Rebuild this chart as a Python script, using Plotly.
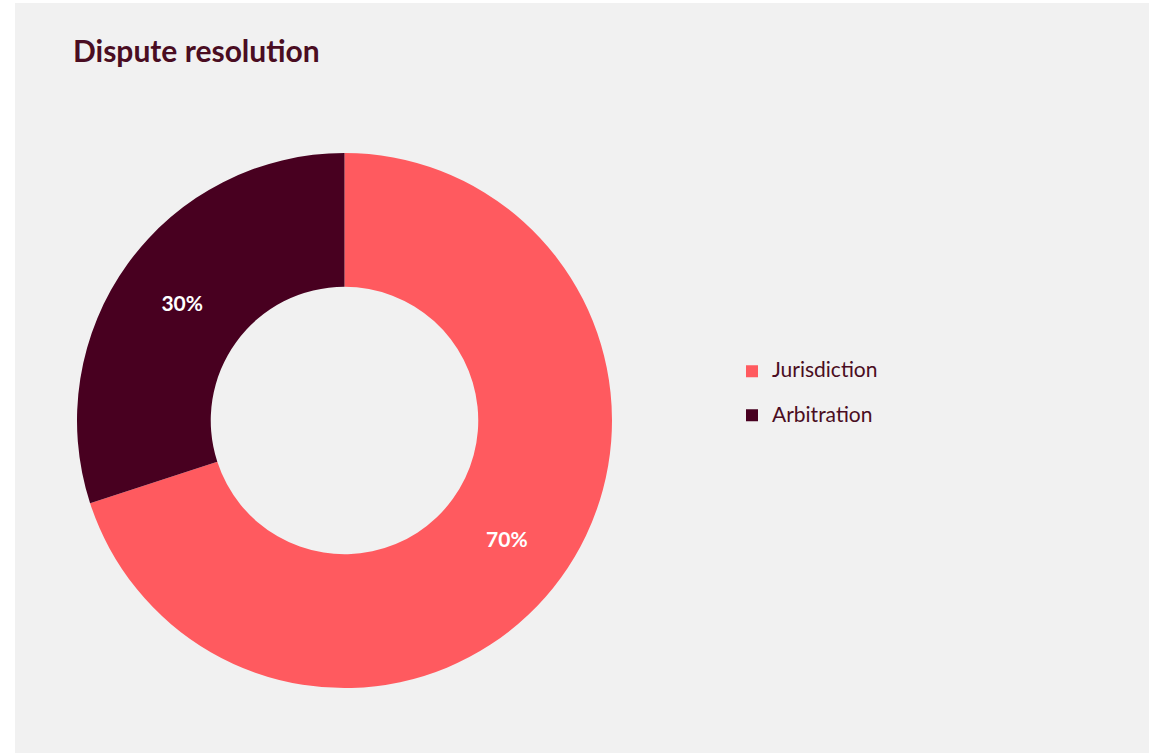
import plotly.graph_objects as go

# Share of contracts by dispute-resolution mechanism
categories = ["Jurisdiction", "Arbitration"]
shares = [70, 30]
slice_colors = ["#FF5A5F", "#480020"]

W, H = 1157, 754
DARK = "#4A0D22"

# Legend labels: second blank line widens each legend row
legend_labels = [f'<span style="font-size:21px">{c}</span><br> ' for c in categories]

fig = go.Figure(
    go.Pie(
        labels=legend_labels,
        values=shares,
        hole=0.5,
        sort=False,
        direction="clockwise",
        rotation=0,
        marker=dict(colors=slice_colors, line=dict(width=0)),
        texttemplate="%{value}%",
        textposition="inside",
        insidetextorientation="horizontal",
        textfont=dict(family="Lato", size=21, color="white", weight="bold"),
        hoverinfo="skip",
        domain=dict(x=[77 / W, 612 / W], y=[1 - 688 / H, 1 - 153 / H]),
    )
)

fig.update_layout(
    width=W,
    height=H,
    margin=dict(l=0, r=0, t=0, b=0),
    paper_bgcolor="white",
    plot_bgcolor="white",
    title=dict(
        text="<b>Dispute resolution</b>",
        x=73 / W,
        xanchor="left",
        xref="paper",
        y=1 - 51 / H,
        yanchor="middle",
        yref="paper",
        font=dict(family="Lato", size=30, color=DARK),
    ),
    legend=dict(
        x=732 / W,
        xanchor="left",
        y=0.5 - 27 / H,
        yanchor="middle",
        valign="top",
        bgcolor="rgba(0,0,0,0)",
        font=dict(family="Lato", size=15.8, color=DARK),
    ),
    shapes=[
        dict(
            type="rect",
            xref="paper",
            yref="paper",
            x0=15 / W,
            x1=1149 / W,
            y0=1 - 753 / H,
            y1=1 - 3 / H,
            fillcolor="#F1F1F1",
            line=dict(width=0),
            layer="below",
        )
    ],
)

fig.write_html("out.html")
